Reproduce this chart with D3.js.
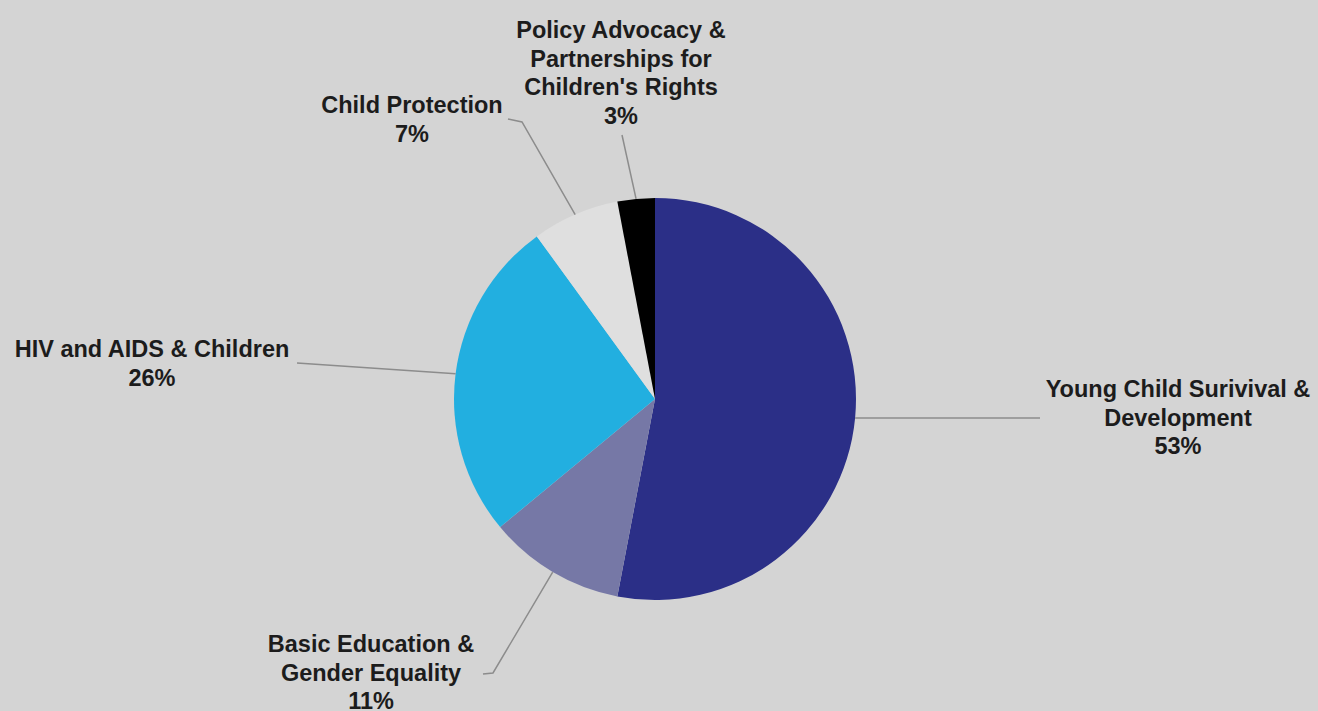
<!DOCTYPE html>
<html>
<head>
<meta charset="utf-8">
<script src="https://cdn.jsdelivr.net/npm/d3@7"></script>
<style>
  html, body { margin: 0; padding: 0; background: #d4d4d4; }
  svg { display: block; }
  text { font-family: "Liberation Sans", Arial, sans-serif; font-weight: bold; fill: #1c1c1c; }
</style>
</head>
<body>
<svg id="chart" width="1318" height="711"></svg>
<script>
// Programme areas, clockwise from 12 o'clock
const categories = [
  "Young Child Surivival & Development",
  "Basic Education & Gender Equality",
  "HIV and AIDS & Children",
  "Child Protection",
  "Policy Advocacy & Partnerships for Children's Rights"
];
const shares = [53, 11, 26, 7, 3];
const sliceColors = ["#2b2f87", "#7678a6", "#22afe0", "#dfdfdf", "#000000"];

// Label text split into lines
const labelLines = [
  ["Young Child Surivival &", "Development"],
  ["Basic Education &", "Gender Equality"],
  ["HIV and AIDS & Children"],
  ["Child Protection"],
  ["Policy Advocacy &", "Partnerships for", "Children's Rights"]
];

// Label placement: anchor centre x, first baseline y, and leader polyline end points
const labelLayout = [
  { x: 1178, y: 397, path: [[1040, 418]] },
  { x: 371,  y: 652, path: [[493, 673], [483, 674]] },
  { x: 152,  y: 357, path: [[297, 363]] },
  { x: 412,  y: 113, path: [[522, 122], [508, 119]] },
  { x: 621,  y: 38,  path: [[622, 135]] }
];

const cx = 655, cy = 399, radius = 201, lineStep = 28.5;

const data = categories.map((c, i) => ({ name: c, value: shares[i], color: sliceColors[i], lines: labelLines[i], layout: labelLayout[i] }));

const svg = d3.select("#chart");
const g = svg.append("g").attr("transform", `translate(${cx},${cy})`);

const pie = d3.pie().value(d => d.value).sort(null);
const arc = d3.arc().innerRadius(0).outerRadius(radius);
const arcs = pie(data);

g.selectAll("path.slice")
  .data(arcs)
  .join("path")
  .attr("class", "slice")
  .attr("d", arc)
  .attr("fill", d => d.data.color);

// Leader lines start on the rim at each slice's mid-angle
const rim = d3.arc().innerRadius(radius).outerRadius(radius);
const leader = d3.line();
svg.selectAll("path.leader")
  .data(arcs)
  .join("path")
  .attr("class", "leader")
  .attr("fill", "none")
  .attr("stroke", "#8c8c8c")
  .attr("stroke-width", 1.5)
  .attr("d", d => {
    const [px, py] = rim.centroid(d);
    return leader([[px + cx, py + cy], ...d.data.layout.path]);
  });

// Labels: name lines followed by the percentage
const labels = svg.selectAll("text.label")
  .data(arcs)
  .join("text")
  .attr("class", "label")
  .attr("text-anchor", "middle")
  .attr("font-size", 23.5);

labels.each(function (d) {
  const t = d3.select(this);
  const rows = [...d.data.lines, d.data.value + "%"];
  rows.forEach((r, i) => {
    t.append("tspan")
      .attr("x", d.data.layout.x)
      .attr("y", d.data.layout.y + i * lineStep)
      .text(r);
  });
});
</script>
</body>
</html>
